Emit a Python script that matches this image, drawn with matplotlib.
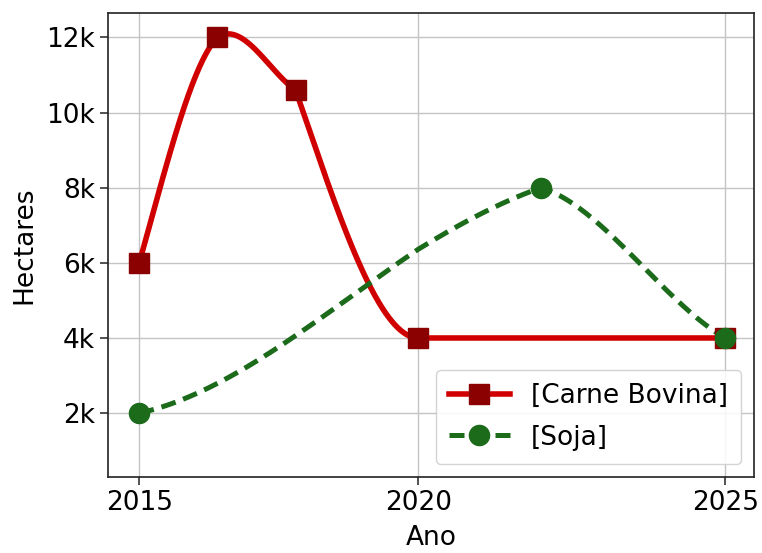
"""Área em hectares por ano: Carne Bovina x Soja (curvas suavizadas)."""

import matplotlib

matplotlib.use("Agg")
import matplotlib.pyplot as plt
import numpy as np
from matplotlib.ticker import FuncFormatter, NullLocator

# dados
anos_carne = [2015, 2016.4, 2017.8, 2020, 2025]
hectares_carne = [6000, 12000, 10600, 4000, 4000]
anos_soja = [2015, 2022, 2025]
hectares_soja = [2000, 8000, 4000]

rotulos_series = ["[Carne Bovina]", "[Soja]"]
anos_ticks = [2015, 2020, 2025]
hectares_ticks = [2000, 4000, 6000, 8000, 10000, 12000]

# forma das curvas: inclinação (saída, chegada) em ha/ano por trecho
forma_carne = [(5300, 1500), (1000, -1000), (-4300, 0), (0, 0)]
forma_soja = [(330, 570), (-500, -940)]

# o eixo x do original não é uniforme: 2015-2020 é mais curto que 2020-2025
KNOT_ANOS = np.array([2015.0, 2020.0, 2025.0])
KNOT_POS = np.array([0.0, 279.0, 585.7])


def _slopes():
    s0 = (KNOT_POS[1] - KNOT_POS[0]) / (KNOT_ANOS[1] - KNOT_ANOS[0])
    s1 = (KNOT_POS[2] - KNOT_POS[1]) / (KNOT_ANOS[2] - KNOT_ANOS[1])
    return s0, s1


def _fwd(x):
    x = np.asarray(x, dtype=float)
    s0, s1 = _slopes()
    return np.where(x <= KNOT_ANOS[1], KNOT_POS[0] + (x - KNOT_ANOS[0]) * s0, KNOT_POS[1] + (x - KNOT_ANOS[1]) * s1)


def _inv(u):
    u = np.asarray(u, dtype=float)
    s0, s1 = _slopes()
    return np.where(u <= KNOT_POS[1], KNOT_ANOS[0] + (u - KNOT_POS[0]) / s0, KNOT_ANOS[1] + (u - KNOT_POS[1]) / s1)


def hermite(x, y, forma, n=120):
    """Liga os pontos com trechos cúbicos de Hermite."""

    xs, ys = [], []
    t = np.linspace(0.0, 1.0, n)
    h00 = 2 * t**3 - 3 * t**2 + 1
    h10 = t**3 - 2 * t**2 + t
    h01 = -2 * t**3 + 3 * t**2
    h11 = t**3 - t**2
    for i, (m0, m1) in enumerate(forma):
        h = x[i + 1] - x[i]
        xs.append(x[i] + h * t)
        ys.append(y[i] * h00 + h * m0 * h10 + y[i + 1] * h01 + h * m1 * h11)
    return np.concatenate(xs), np.concatenate(ys)


def main() -> None:
    plt.rcParams["font.family"] = ["DejaVu Sans"]
    fonte = 19

    fig = plt.figure(figsize=(7.62, 5.53), dpi=100)
    ax = fig.add_axes([108 / 762, 76 / 553, 646 / 762, 464 / 553])
    ax.set_xscale("function", functions=(_fwd, _inv))

    vermelho, vermelho_escuro = "#d10000", "#8b0000"
    verde = "#1b6b1b"
    tracejado = (0, (3.0, 1.6))

    xc, yc = hermite(anos_carne, hectares_carne, forma_carne)
    xs, ys = hermite(anos_soja, hectares_soja, forma_soja)

    ax.plot(xc, yc, color=vermelho, linewidth=4, solid_capstyle="round", zorder=3)
    ax.plot(anos_carne, hectares_carne, linestyle="none", marker="s", markersize=15,
            markerfacecolor=vermelho_escuro, markeredgecolor=vermelho_escuro, zorder=4)
    ax.plot(xs, ys, color=verde, linewidth=3.6, linestyle=tracejado, zorder=3)
    ax.plot(anos_soja, hectares_soja, linestyle="none", marker="o", markersize=14.5,
            markerfacecolor=verde, markeredgecolor=verde, zorder=4)

    # entradas da legenda (linha + marcador)
    ax.plot([], [], color=vermelho, linewidth=4, marker="s", markersize=15,
            markerfacecolor=vermelho_escuro, markeredgecolor=vermelho_escuro, label=rotulos_series[0])
    ax.plot([], [], color=verde, linewidth=3.6, linestyle=tracejado, marker="o", markersize=14.5,
            markerfacecolor=verde, markeredgecolor=verde, label=rotulos_series[1])

    ax.set_xlim(2014.44, 2025.47)
    ax.set_ylim(300, 12650)
    ax.set_xticks(anos_ticks)
    ax.set_xticklabels([str(a) for a in anos_ticks])
    ax.xaxis.set_minor_locator(NullLocator())
    ax.set_yticks(hectares_ticks)
    ax.yaxis.set_major_formatter(FuncFormatter(lambda v, _: f"{v / 1000:.0f}k"))

    ax.tick_params(axis="both", labelsize=fonte, length=6, width=1.1, color="#222222")
    for spine in ax.spines.values():
        spine.set_linewidth(1.2)
        spine.set_color("#222222")

    ax.grid(True, color="#c4c4c4", linewidth=1.0)
    ax.set_axisbelow(True)

    ax.set_xlabel("Ano", fontsize=fonte, labelpad=6)
    ax.set_ylabel("Hectares", fontsize=fonte, labelpad=6)

    ax.legend(loc="lower right", fontsize=fonte, framealpha=0.85, edgecolor="#cccccc",
              borderaxespad=0.5, handlelength=2.3, labelspacing=0.6, borderpad=0.5)

    fig.savefig("out.png", dpi=100)
    plt.close(fig)


if __name__ == "__main__":
    main()
